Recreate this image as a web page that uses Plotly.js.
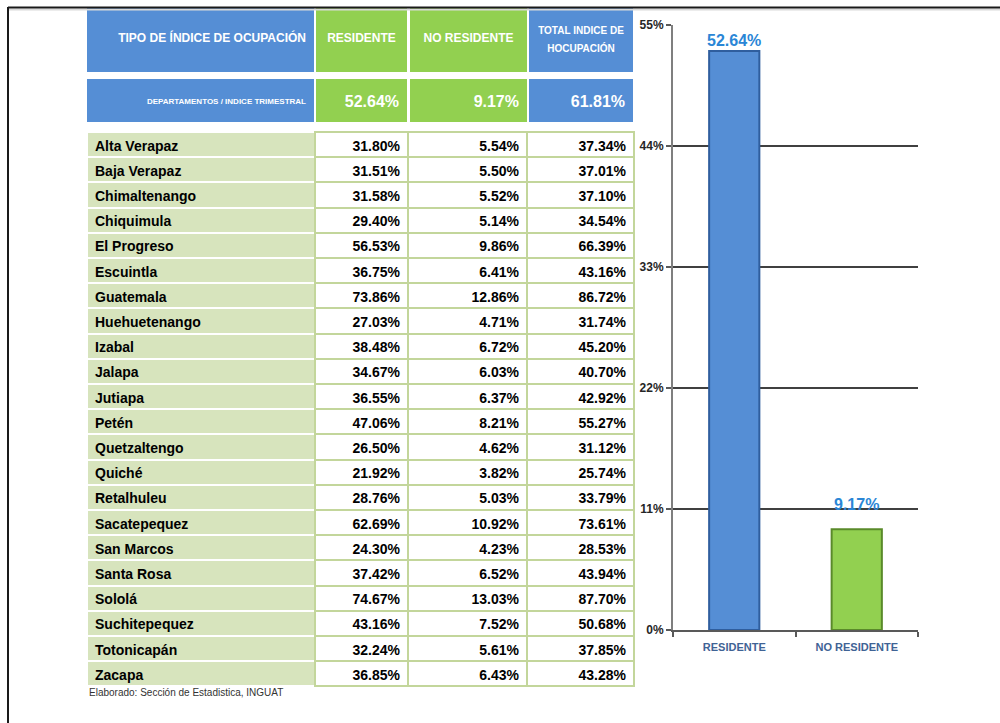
<!DOCTYPE html>
<html>
<head>
<meta charset="utf-8">
<script src="https://cdn.plot.ly/plotly-3.0.1.min.js"></script>
<style>
  html, body { margin: 0; padding: 0; background: #ffffff; }
  #chart { width: 1000px; height: 723px; }
</style>
</head>
<body>
<div id="chart"></div>
<script>
const departamentos = ["Alta Verapaz", "Baja Verapaz", "Chimaltenango", "Chiquimula", "El Progreso", "Escuintla", "Guatemala", "Huehuetenango", "Izabal", "Jalapa", "Jutiapa", "Petén", "Quetzaltengo", "Quiché", "Retalhuleu", "Sacatepequez", "San Marcos", "Santa Rosa", "Sololá", "Suchitepequez", "Totonicapán", "Zacapa"];
const residente = [31.80, 31.51, 31.58, 29.40, 56.53, 36.75, 73.86, 27.03, 38.48, 34.67, 36.55, 47.06, 26.50, 21.92, 28.76, 62.69, 24.30, 37.42, 74.67, 43.16, 32.24, 36.85];
const noResidente = [5.54, 5.50, 5.52, 5.14, 9.86, 6.41, 12.86, 4.71, 6.72, 6.03, 6.37, 8.21, 4.62, 3.82, 5.03, 10.92, 4.23, 6.52, 13.03, 7.52, 5.61, 6.43];
const totalIndice = [37.34, 37.01, 37.10, 34.54, 66.39, 43.16, 86.72, 31.74, 45.20, 40.70, 42.92, 55.27, 31.12, 25.74, 33.79, 73.61, 28.53, 43.94, 87.70, 50.68, 37.85, 43.28];
const headerLabels = ["TIPO DE ÍNDICE DE OCUPACIÓN", "RESIDENTE", "NO RESIDENTE", "TOTAL INDICE  DE<br>HOCUPACIÓN"];
const resumenLabel = "DEPARTAMENTOS / INDICE TRIMESTRAL";
const resumen = [52.64, 9.17, 61.81];
const barCategories = ["RESIDENTE", "NO RESIDENTE"];
const barValues = [52.64, 9.17];
const yTicks = [0, 11, 22, 33, 44, 55];
const footnote = "Elaborado: Sección de Estadistica, INGUAT";

const W = 1000, H = 723;
const FONT = "'Liberation Sans', Arial, sans-serif";
const BLUE = "#558ed5", GREEN = "#92d050", LIGHT = "#d7e4bd", BORDER = "#c3d69b";
const colW = [228, 93, 119, 107];
const colEdges = [[87, 314], [316, 408], [410, 527], [529, 634]];
const px = v => v / W;
const py = v => 1 - v / H;
const fmt = v => v.toFixed(2) + "%";
const noWrap = s => s.replace(/ +/g, "\u00a0");

const traces = [];

// one header block per column, with a blank spacer row on top for vertical centring;
// multi-line labels get one table row per line so each line is centred on its own
function headerBlock(col, top, bottom, text, fill, size, align, spacer, lineH) {
  const lines = text.split("<br>").map(noWrap);
  const avail = (bottom - top) - spacer;
  let rows, rowH;
  if (lines.length > 1) {
    rows = lines.concat([" "]);
    rowH = avail / rows.length;
  } else {
    rows = lines;
    rowH = avail;
  }
  traces.push({
    type: "table",
    domain: { x: [px(colEdges[col][0]), px(colEdges[col][1])], y: [py(bottom), py(top)] },
    header: {
      values: [[" "]],
      height: spacer,
      fill: { color: fill },
      line: { color: fill, width: 0 },
      font: { size: 1, color: fill }
    },
    cells: {
      values: [rows],
      height: rowH,
      align: align,
      fill: { color: fill },
      line: { color: fill, width: 0 },
      font: { family: FONT, size: size, color: "#ffffff", weight: "bold" }
    }
  });
}

const row1Fill = [BLUE, GREEN, GREEN, BLUE];
const row1Size = [12, 12, 12, 10];
const row1Align = ["right", "center", "center", "center"];
const row1Spacer = [17, 17, 17, 10];
headerLabels.forEach((h, i) => headerBlock(i, 8, 72, h, row1Fill[i], row1Size[i], row1Align[i], row1Spacer[i]));

const row2Text = [resumenLabel].concat(resumen.map(fmt));
const row2Size = [8, 16, 16, 16];
const row2Spacer = [11, 8, 8, 8];
row2Text.forEach((t, i) => headerBlock(i, 79, 122, t, row1Fill[i], row2Size[i], "right", row2Spacer[i]));

// Data rows: first row as header, remaining as cells
const cols = [departamentos, residente.map(fmt), noResidente.map(fmt), totalIndice.map(fmt)];
const dataStyle = {
  height: 25.2,
  align: ["left", "right", "right", "right"],
  fill: { color: [LIGHT, "#ffffff", "#ffffff", "#ffffff"] },
  line: { color: ["#ffffff", BORDER, BORDER, BORDER], width: 2 },
  font: { family: FONT, size: 14, color: "#000000", weight: "bold" }
};
traces.push({
  type: "table",
  domain: { x: [px(87), px(634)], y: [py(690), py(132)] },
  columnwidth: colW,
  header: Object.assign({ values: cols.map(c => [c[0]]) }, dataStyle),
  cells: Object.assign({ values: cols.map(c => c.slice(1)) }, dataStyle)
});

// Bar chart
traces.push({
  type: "bar",
  x: barCategories,
  y: barValues,
  width: 0.41,
  marker: {
    color: [BLUE, GREEN],
    line: { color: ["#2f5e9e", "#5a8a2a"], width: 2 }
  },
  hoverinfo: "skip",
  showlegend: false
});

const layout = {
  width: W,
  height: H,
  margin: { l: 0, r: 0, t: 0, b: 0 },
  paper_bgcolor: "#ffffff",
  plot_bgcolor: "#ffffff",
  showlegend: false,
  xaxis: {
    domain: [px(673), px(918)],
    type: "category",
    range: [-0.5, 1.5],
    showline: true,
    linecolor: "#595959",
    linewidth: 2,
    ticks: "outside",
    tickson: "boundaries",
    ticklen: 5,
    tickcolor: "#595959",
    tickwidth: 2,
    showgrid: false,
    ticklabelstandoff: 6,
    tickfont: { family: FONT, size: 11, color: "#3f6395", weight: "bold" },
    fixedrange: true
  },
  yaxis: {
    domain: [py(630), py(25)],
    range: [0, 55],
    tickvals: yTicks,
    ticktext: yTicks.map(v => v + "%"),
    showline: true,
    linecolor: "#7f7f7f",
    linewidth: 2,
    ticks: "outside",
    ticklen: 5,
    tickcolor: "#595959",
    tickwidth: 2,
    showgrid: true,
    gridcolor: "#404040",
    gridwidth: 1.5,
    zeroline: false,
    tickfont: { family: FONT, size: 12, color: "#262626", weight: "bold" },
    fixedrange: true
  },
  annotations: barCategories.map((c, i) => ({
    x: c,
    y: barValues[i],
    xref: "x",
    yref: "y",
    text: fmt(barValues[i]),
    showarrow: false,
    yanchor: "bottom",
    yshift: [0, 14][i],
    font: { family: FONT, size: 16, color: "#2a86d6", weight: "bold" }
  })).concat([{
    x: px(87),
    y: py(692),
    xref: "paper",
    yref: "paper",
    xanchor: "left",
    yanchor: "middle",
    text: footnote,
    showarrow: false,
    font: { family: FONT, size: 10, color: "#333333" }
  }]),
  shapes: [
    { type: "line", xref: "paper", yref: "paper", x0: px(8), x1: 1, y0: py(9.5), y1: py(9.5), line: { color: "#d9d9d9", width: 2 } },
    { type: "line", xref: "paper", yref: "paper", x0: px(8), x1: 1, y0: py(7.5), y1: py(7.5), line: { color: "#1a1a1a", width: 2 } },
    { type: "line", xref: "paper", yref: "paper", x0: px(8), x1: px(8), y0: py(7), y1: 0, line: { color: "#1a1a1a", width: 2 } }
  ]
};

Plotly.newPlot("chart", traces, layout, { displayModeBar: false, staticPlot: true });
</script>
</body>
</html>
